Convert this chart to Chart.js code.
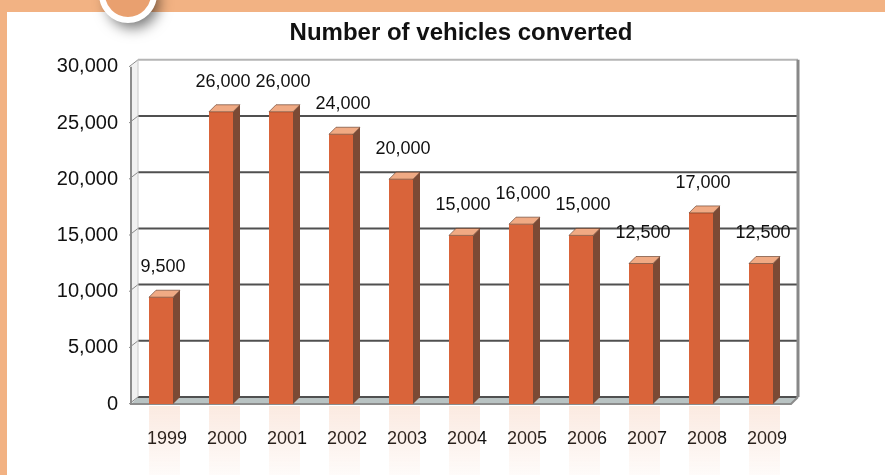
<!DOCTYPE html>
<html>
<head>
<meta charset="utf-8">
<script src="https://cdn.jsdelivr.net/npm/chart.js@4"></script>
<style>
  html, body { margin: 0; padding: 0; }
  body { width: 885px; height: 475px; background: #f2b283; position: relative; overflow: hidden; }
  #panel { position: absolute; left: 7px; top: 12px; right: 0; bottom: 0; background: #ffffff; }
  #wrap { position: absolute; left: 0; top: 0; width: 885px; height: 475px; }
</style>
</head>
<body>
<div id="panel"></div>
<div id="wrap"><canvas id="chart"></canvas></div>
<script>
const years = ['1999', '2000', '2001', '2002', '2003', '2004', '2005', '2006', '2007', '2008', '2009'];
const vehiclesConverted = [9500, 26000, 26000, 24000, 20000, 15000, 16000, 15000, 12500, 17000, 12500];
const yMin = 0;
const yMax = 30000;
const yStep = 5000;

// depth of the fake 3D effect, in pixels
const DEPTH = 7;

const FRONT = '#d9643a';
const SIDE = '#7b4a35';
const TOP = '#f0aa84';

const fmt = v => Number(v).toLocaleString('en-US');

// logo ring peeking in at the top of the page
const ringDecor = {
    id: 'ringDecor',
    afterDraw(chart) {
        const ctx = chart.ctx;
        ctx.save();
        ctx.shadowColor = 'rgba(0,0,0,0.55)';
        ctx.shadowBlur = 14;
        ctx.shadowOffsetX = 5;
        ctx.shadowOffsetY = 8;
        ctx.beginPath();
        ctx.arc(128, -6, 26, 0, Math.PI * 2);
        ctx.fillStyle = '#e9a06f';
        ctx.fill();
        ctx.shadowColor = 'transparent';
        ctx.lineWidth = 6;
        ctx.strokeStyle = '#ffffff';
        ctx.stroke();
        ctx.restore();
    }
};

// back wall, side wall, floor and bar reflections
const walls3d = {
    id: 'walls3d',
    beforeDatasetsDraw(chart) {
        const ctx = chart.ctx;
        const { left, right, top, bottom } = chart.chartArea;
        const y = chart.scales.y;
        ctx.save();

        // reflections of the bars below the floor
        const meta = chart.getDatasetMeta(0);
        meta.data.forEach(bar => {
            const w = bar.width;
            const x0 = bar.x - w / 2;
            const g = ctx.createLinearGradient(0, bottom + 2, 0, chart.height);
            g.addColorStop(0, 'rgba(235,150,105,0.2)');
            g.addColorStop(1, 'rgba(235,150,105,0.04)');
            ctx.fillStyle = g;
            ctx.fillRect(x0, bottom + 2, w + DEPTH, chart.height - bottom - 2);
        });

        // left side wall
        ctx.fillStyle = '#f1f1f1';
        ctx.beginPath();
        ctx.moveTo(left, bottom);
        ctx.lineTo(left, top);
        ctx.lineTo(left + DEPTH, top - DEPTH);
        ctx.lineTo(left + DEPTH, bottom - DEPTH);
        ctx.closePath();
        ctx.fill();

        // floor
        ctx.fillStyle = '#b9c3c3';
        ctx.beginPath();
        ctx.moveTo(left, bottom);
        ctx.lineTo(left + DEPTH, bottom - DEPTH);
        ctx.lineTo(right + DEPTH, bottom - DEPTH);
        ctx.lineTo(right, bottom);
        ctx.closePath();
        ctx.fill();

        // gridlines on the back wall
        for (let v = yMin; v <= yMax; v += yStep) {
            const py = y.getPixelForValue(v);
            ctx.strokeStyle = v === yMax ? '#b5b5b5' : '#505050';
            ctx.lineWidth = 2;
            ctx.beginPath();
            ctx.moveTo(left + DEPTH, py - DEPTH);
            ctx.lineTo(right + DEPTH, py - DEPTH);
            ctx.stroke();
            ctx.strokeStyle = '#8a8a8a';
            ctx.lineWidth = 1;
            ctx.beginPath();
            ctx.moveTo(left - 2, py);
            ctx.lineTo(left + DEPTH, py - DEPTH);
            ctx.stroke();
        }

        // wall edges
        ctx.strokeStyle = '#8c8c8c';
        ctx.lineWidth = 2;
        ctx.beginPath();
        ctx.moveTo(left, top);
        ctx.lineTo(left, bottom);
        ctx.lineTo(right, bottom);
        ctx.lineTo(right + DEPTH, bottom - DEPTH);
        ctx.stroke();
        ctx.strokeStyle = '#c8c8c8';
        ctx.lineWidth = 1;
        ctx.beginPath();
        ctx.moveTo(left + DEPTH, top - DEPTH);
        ctx.lineTo(left + DEPTH, bottom - DEPTH);
        ctx.stroke();
        ctx.strokeStyle = '#888888';
        ctx.lineWidth = 3;
        ctx.beginPath();
        ctx.moveTo(right + DEPTH, top - DEPTH);
        ctx.lineTo(right + DEPTH, bottom - DEPTH);
        ctx.stroke();

        ctx.restore();
    },
    afterDatasetsDraw(chart) {
        const ctx = chart.ctx;
        const meta = chart.getDatasetMeta(0);
        ctx.save();
        meta.data.forEach((bar, i) => {
            const w = bar.width;
            const l = bar.x - w / 2;
            const r = bar.x + w / 2;
            const t = bar.y;
            const b = bar.base;

            // right side face
            ctx.fillStyle = SIDE;
            ctx.beginPath();
            ctx.moveTo(r, t);
            ctx.lineTo(r + DEPTH, t - DEPTH);
            ctx.lineTo(r + DEPTH, b - DEPTH);
            ctx.lineTo(r, b);
            ctx.closePath();
            ctx.fill();

            // top face
            ctx.fillStyle = TOP;
            ctx.beginPath();
            ctx.moveTo(l, t);
            ctx.lineTo(l + DEPTH, t - DEPTH);
            ctx.lineTo(r + DEPTH, t - DEPTH);
            ctx.lineTo(r, t);
            ctx.closePath();
            ctx.fill();
            ctx.strokeStyle = 'rgba(90,50,30,0.6)';
            ctx.lineWidth = 1;
            ctx.stroke();

            // value label
            ctx.fillStyle = '#111111';
            ctx.font = '18px "Liberation Sans", Arial, sans-serif';
            ctx.textAlign = 'center';
            ctx.textBaseline = 'middle';
            ctx.fillText(fmt(vehiclesConverted[i]), bar.x + 2, t - 30);
        });
        ctx.restore();
    }
};

Chart.defaults.font.family = '"Liberation Sans", Arial, sans-serif';
Chart.defaults.color = '#111111';

new Chart(document.getElementById('chart'), {
    type: 'bar',
    data: {
        labels: years,
        datasets: [{
            label: 'Vehicles converted',
            data: vehiclesConverted,
            backgroundColor: FRONT,
            borderWidth: 0,
            barPercentage: 0.4,
            categoryPercentage: 1.0
        }]
    },
    options: {
        responsive: true,
        maintainAspectRatio: false,
        animation: false,
        layout: { padding: { left: 0, right: 94, top: 0, bottom: 0 } },
        plugins: {
            legend: { display: false },
            tooltip: { enabled: false },
            title: {
                display: true,
                fullSize: false,
                text: 'Number of vehicles converted',
                color: '#111111',
                font: { size: 24, weight: 'bold' },
                padding: { top: 19, bottom: 19 }
            }
        },
        scales: {
            x: {
                grid: { display: false, drawTicks: false },
                border: { display: false },
                ticks: { font: { size: 18 }, padding: 24, labelOffset: 6, color: '#111111' },
                afterFit(scale) { scale.height = 71; }
            },
            y: {
                min: yMin,
                max: yMax,
                grid: { display: false, drawTicks: false },
                border: { display: false },
                ticks: {
                    stepSize: yStep,
                    font: { size: 20 },
                    padding: 13,
                    color: '#111111',
                    callback: v => fmt(v)
                },
                afterFit(scale) { scale.width = 131; }
            }
        }
    },
    plugins: [walls3d, ringDecor]
});
</script>
</body>
</html>
